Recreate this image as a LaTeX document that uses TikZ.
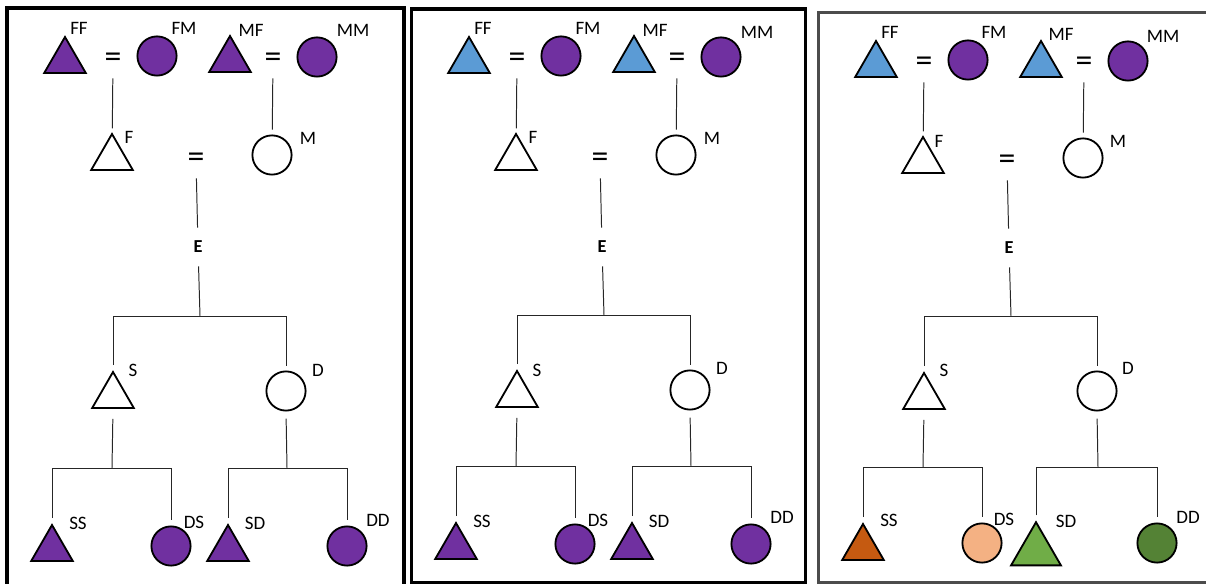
\documentclass[tikz,border=0pt]{standalone}
\usepackage{fontspec}
\setmainfont{Carlito}
\usepackage{xcolor}
\usetikzlibrary{shapes.geometric, positioning}

\definecolor{pviolet}{HTML}{7030A0}
\definecolor{pbleu}{HTML}{5B9BD5}
\definecolor{porange}{HTML}{C55A11}
\definecolor{ppeche}{HTML}{F4B183}
\definecolor{pvert}{HTML}{70AD47}
\definecolor{pvertfonce}{HTML}{548235}

\tikzset{
  homme/.style={regular polygon, regular polygon sides=3, draw, line width=1.3pt, minimum size=1.2cm, inner sep=0pt},
  femme/.style={circle, draw, line width=1.3pt, minimum size=0.98cm, inner sep=0pt},
  lbl/.style={font=\fontsize{13.5}{14}\selectfont, inner sep=0pt},
  eq/.style={font=\fontsize{24}{24}\selectfont, inner sep=0pt, minimum height=0.9cm},
  ego/.style={font=\bfseries\fontsize{13}{14}\selectfont, inner sep=0pt, minimum height=0.95cm},
  kin/.style={line width=0.7pt, black!85},
  cadre/.style={line width=2.2pt}
}

\begin{document}
\begin{tikzpicture}[x=0.025cm, y=-0.025cm]

  \useasboundingbox (0,0) rectangle (1206,584);
  \clip (0,0) rectangle (1206,584);

  % Premier arbre
  \draw[cadre] (7,600) -- (7,8) -- (404,8) -- (404,600);

  \node[homme, fill=pviolet] (FFa) at (65,61) {};
  \node[eq] (eqFa) at (113,60) {=};
  \node[femme, fill=pviolet] (FMa) at (157,56) {};
  \node[homme, fill=pviolet] (MFa) at (230,60) {};
  \node[eq] (eqMa) at (273,60) {=};
  \node[femme, fill=pviolet] (MMa) at (317,57) {};
  \node[homme] (Fa) at (112,158) {};
  \node[eq] (eqPa) at (196,160) {=};
  \node[femme] (Ma) at (272,155) {};
  \node[ego] (Ea) at (198,247) {E};
  \node[homme] (Sa) at (113,396) {};
  \node[femme] (Da) at (286,391) {};
  \node[homme, fill=pviolet] (SSa) at (52,549) {};
  \node[femme, fill=pviolet] (DSa) at (171,546) {};
  \node[homme, fill=pviolet] (SDa) at (228,549) {};
  \node[femme, fill=pviolet] (DDa) at (347,546) {};

  \node[lbl] (lFFa) at (79,28) {FF};
  \node[lbl] (lFMa) at (184,28) {FM};
  \node[lbl] (lMFa) at (251,30) {MF};
  \node[lbl] (lMMa) at (353,30) {MM};
  \node[lbl] (lFa) at (129,137) {F};
  \node[lbl] (lMa) at (308,138) {M};
  \node[lbl] (lSa) at (133,370) {S};
  \node[lbl] (lDa) at (318,370) {D};
  \node[lbl] (lSSa) at (78,523) {SS};
  \node[lbl] (lDSa) at (194,522) {DS};
  \node[lbl] (lSDa) at (255,523) {SD};
  \node[lbl] (lDDa) at (378,520) {DD};

  \coordinate (sa) at (200,316);
  \coordinate (csa) at (112,468);
  \coordinate (cda) at (287,468);

  \draw[kin, shorten >=3pt] (eqFa) -- (Fa);
  \draw[kin, shorten >=3.5pt] (eqMa) -- (Ma);
  \draw[kin] (eqPa) -- (Ea);
  \draw[kin] (Ea) -- (sa);
  \draw[kin, shorten <=3.5pt, shorten >=3.5pt] (Sa.north) -- (Sa.north |- sa) -- (Da.north |- sa) -- (Da.north);
  \draw[kin, shorten <=7pt] (Sa.south) -- (csa);
  \draw[kin, shorten <=5pt] (Da.south) -- (cda);
  \draw[kin, shorten <=3.5pt, shorten >=4pt] (SSa.north) -- (SSa.north |- csa) -- (DSa.north |- csa) -- (DSa.north);
  \draw[kin, shorten <=3.5pt, shorten >=4pt] (SDa.north) -- (SDa.north |- cda) -- (DDa.north |- cda) -- (DDa.north);

  % Deuxieme arbre
  \draw[cadre] (411.5,9) rectangle (805.5,582.5);

  \begin{scope}[shift={(404,0)}]
  \node[homme, fill=pbleu] (FFb) at (65,61) {};
  \node[eq] (eqFb) at (113,60) {=};
  \node[femme, fill=pviolet] (FMb) at (157,56) {};
  \node[homme, fill=pbleu] (MFb) at (230,60) {};
  \node[eq] (eqMb) at (273,60) {=};
  \node[femme, fill=pviolet] (MMb) at (317,57) {};
  \node[homme] (Fb) at (112,158) {};
  \node[eq] (eqPb) at (196,160) {=};
  \node[femme] (Mb) at (272,155) {};
  \node[ego] (Eb) at (198,247) {E};
  \node[homme] (Sb) at (113,395) {};
  \node[femme] (Db) at (286,390) {};
  \node[homme, fill=pviolet] (SSb) at (52,547) {};
  \node[femme, fill=pviolet] (DSb) at (171,544) {};
  \node[homme, fill=pviolet] (SDb) at (228,547) {};
  \node[femme, fill=pviolet] (DDb) at (347,544) {};

  \node[lbl] (lFFb) at (79,28) {FF};
  \node[lbl] (lFMb) at (184,28) {FM};
  \node[lbl] (lMFb) at (251,30) {MF};
  \node[lbl] (lMMb) at (353,32) {MM};
  \node[lbl] (lFb) at (129,137) {F};
  \node[lbl] (lMb) at (308,138) {M};
  \node[lbl] (lSb) at (133,370) {S};
  \node[lbl] (lDb) at (318,368) {D};
  \node[lbl] (lSSb) at (78,521) {SS};
  \node[lbl] (lDSb) at (194,520) {DS};
  \node[lbl] (lSDb) at (255,521) {SD};
  \node[lbl] (lDDb) at (378,517) {DD};

  \coordinate (sb) at (200,315);
  \coordinate (csb) at (112,466);
  \coordinate (cdb) at (287,466);

  \draw[kin, shorten >=3pt] (eqFb) -- (Fb);
  \draw[kin, shorten >=3.5pt] (eqMb) -- (Mb);
  \draw[kin] (eqPb) -- (Eb);
  \draw[kin] (Eb) -- (sb);
  \draw[kin, shorten <=3.5pt, shorten >=3.5pt] (Sb.north) -- (Sb.north |- sb) -- (Db.north |- sb) -- (Db.north);
  \draw[kin, shorten <=7pt] (Sb.south) -- (csb);
  \draw[kin, shorten <=5pt] (Db.south) -- (cdb);
  \draw[kin, shorten <=3.5pt, shorten >=4pt] (SSb.north) -- (SSb.north |- csb) -- (DSb.north |- csb) -- (DSb.north);
  \draw[kin, shorten <=3.5pt, shorten >=4pt] (SDb.north) -- (SDb.north |- cdb) -- (DDb.north |- cdb) -- (DDb.north);
  \end{scope}

  % Troisieme arbre
  \draw[cadre, black!70] (1215,12.5) -- (818.5,12.5) -- (818.5,583) -- (1215,583);

  \begin{scope}[shift={(811,2)}]
  \node[homme, fill=pbleu] (FFc) at (65,63) {};
  \node[eq] (eqFc) at (113,62) {=};
  \node[femme, fill=pviolet] (FMc) at (157,58) {};
  \node[homme, fill=pbleu] (MFc) at (230,63) {};
  \node[eq] (eqMc) at (273,62) {=};
  \node[femme, fill=pviolet] (MMc) at (317,59) {};
  \node[homme] (Fc) at (112,159) {};
  \node[eq] (eqPc) at (196,160) {=};
  \node[femme] (Mc) at (272,156) {};
  \node[ego] (Ec) at (198,246) {E};
  \node[homme] (Sc) at (113,395) {};
  \node[femme] (Dc) at (286,389) {};
  \node[homme, fill=porange] (SSc) at (52,546) {};
  \node[femme, fill=ppeche] (DSc) at (171,541) {};
  \node[homme, fill=pvert, minimum size=1.44cm] (SDc) at (225,549) {};
  \node[femme, fill=pvertfonce] (DDc) at (346,541) {};

  \node[lbl] (lFFc) at (79,30) {FF};
  \node[lbl] (lFMc) at (183,30) {FM};
  \node[lbl] (lMFc) at (250,32) {MF};
  \node[lbl] (lMMc) at (352,34) {MM};
  \node[lbl] (lFc) at (128,139) {F};
  \node[lbl] (lMc) at (307,139) {M};
  \node[lbl] (lSc) at (133,368) {S};
  \node[lbl] (lDc) at (317,366) {D};
  \node[lbl] (lSSc) at (78,518) {SS};
  \node[lbl] (lDSc) at (193,517) {DS};
  \node[lbl] (lSDc) at (255,519) {SD};
  \node[lbl] (lDDc) at (377,515) {DD};

  \coordinate (sc) at (200,314);
  \coordinate (csc) at (112,465);
  \coordinate (cdc) at (287,465);

  \draw[kin, shorten >=3pt] (eqFc) -- (Fc);
  \draw[kin, shorten >=3.5pt] (eqMc) -- (Mc);
  \draw[kin] (eqPc) -- (Ec);
  \draw[kin] (Ec) -- (sc);
  \draw[kin, shorten <=3.5pt, shorten >=3.5pt] (Sc.north) -- (Sc.north |- sc) -- (Dc.north |- sc) -- (Dc.north);
  \draw[kin, shorten <=7pt] (Sc.south) -- (csc);
  \draw[kin, shorten <=5pt] (Dc.south) -- (cdc);
  \draw[kin, shorten <=3.5pt, shorten >=4pt] (SSc.north) -- (SSc.north |- csc) -- (DSc.north |- csc) -- (DSc.north);
  \draw[kin, shorten <=3.5pt, shorten >=4pt] (SDc.north) -- (SDc.north |- cdc) -- (DDc.north |- cdc) -- (DDc.north);
  \end{scope}

\end{tikzpicture}
\end{document}
